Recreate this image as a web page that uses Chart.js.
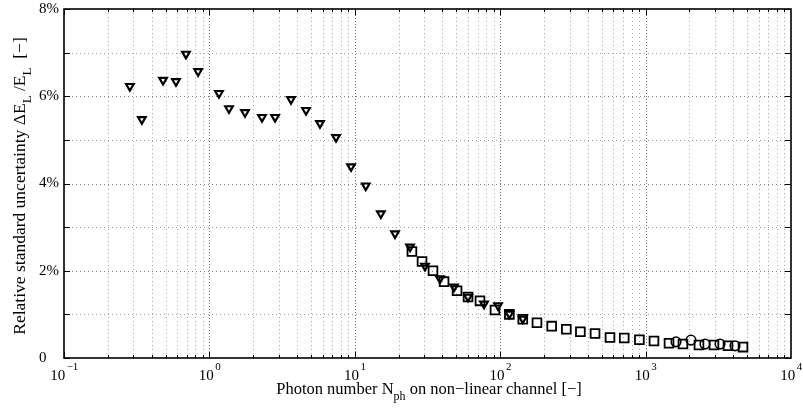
<!DOCTYPE html>
<html>
<head>
<meta charset="utf-8">
<script src="https://cdn.jsdelivr.net/npm/chart.js@4/dist/chart.umd.min.js"></script>
<style>
  html, body { margin: 0; padding: 0; background: #ffffff; }
  #wrap { width: 803px; height: 412px; position: relative; }
</style>
</head>
<body>
<div id="wrap"><canvas id="c" width="803" height="412"></canvas></div>
<script>
// ---- Data ----
// Photon number N_ph (x) and relative standard uncertainty in % (y)
const triangleX = [0.284, 0.343, 0.480, 0.589, 0.690, 0.836, 1.164, 1.364, 1.757, 2.30, 2.83,
                   3.64, 4.62, 5.76, 7.43, 9.42, 11.9, 15.1, 18.9, 24.0, 30.4, 38.5, 48.1,
                   60.1, 77.4, 96.6, 115.6, 143];
const triangleY = [6.23, 5.47, 6.37, 6.34, 6.97, 6.57, 6.07, 5.72, 5.63, 5.52, 5.52,
                   5.93, 5.68, 5.38, 5.06, 4.39, 3.95, 3.31, 2.85, 2.55, 2.11, 1.82, 1.63,
                   1.40, 1.24, 1.20, 1.01, 0.90];

const squareX = [24.7, 29.0, 34.5, 41.1, 50.5, 60.1, 72.6, 92.1, 115.6, 143, 179, 226, 285,
                 356, 449, 569, 713, 906, 1142, 1449, 1807, 2328, 2951, 3687, 4677];
const squareY = [2.44, 2.21, 2.00, 1.75, 1.54, 1.40, 1.31, 1.10, 1.00, 0.89, 0.81, 0.73, 0.66,
                 0.60, 0.56, 0.47, 0.46, 0.42, 0.39, 0.34, 0.32, 0.30, 0.30, 0.28, 0.25];

const circleX = [1618, 2051, 2561, 3249, 4121];
const circleY = [0.37, 0.41, 0.32, 0.32, 0.28];

// Axis tick labels
const xTickExponents = [-1, 0, 1, 2, 3, 4];
const yTickValues = [0, 2, 4, 6, 8];
const yTickLabels = ['0', '2%', '4%', '6%', '8%'];
const yGridValues = [1, 2, 3, 4, 5, 6, 7];

const xTitleParts = [['Photon number N', 0], ['ph', -1], [' on non\u2212linear channel [\u2212]', 0]];
const yTitleParts = [['Relative standard uncertainty \u0394E', 0], ['L', -1], [' /E', 0], ['L', -1], ['  [\u2212]', 0]];

// ---- Build datasets ----
function pts(xs, ys) { return xs.map((x, i) => ({ x: x, y: ys[i] })); }

const FONT = '"Liberation Serif", "Times New Roman", serif';

function drawRich(ctx, parts, x, y, size) {
  // parts: [text, mode]  mode 0 normal, -1 subscript, 1 superscript
  const subSize = Math.round(size * 0.72);
  let total = 0;
  parts.forEach(p => {
    ctx.font = (p[1] === 0 ? size : subSize) + 'px ' + FONT;
    total += ctx.measureText(p[0]).width;
  });
  let cx = x - total / 2;
  ctx.textAlign = 'left';
  ctx.textBaseline = 'alphabetic';
  parts.forEach(p => {
    ctx.font = (p[1] === 0 ? size : subSize) + 'px ' + FONT;
    const dy = p[1] === -1 ? 6 : (p[1] === 1 ? -9 : 0);
    ctx.fillText(p[0], cx, y + dy);
    cx += ctx.measureText(p[0]).width;
  });
}

const axesPlugin = {
  id: 'matlabAxes',
  beforeDatasetsDraw(chart) {
    const ctx = chart.ctx;
    const xs = chart.scales.x, ys = chart.scales.y;
    const a = chart.chartArea;
    ctx.save();
    ctx.lineWidth = 1;
    // vertical grid lines (log decades)
    for (let e = -1; e < 4; e++) {
      for (let m = 1; m <= 9; m++) {
        const v = m * Math.pow(10, e);
        if (m === 1 && e === -1) continue;
        const px = Math.round(xs.getPixelForValue(v)) + 0.5;
        ctx.strokeStyle = m === 1 ? '#707070' : '#a8a8a8';
        ctx.setLineDash(m === 1 ? [1, 2] : [1, 3]);
        ctx.beginPath();
        ctx.moveTo(px, a.top);
        ctx.lineTo(px, a.bottom);
        ctx.stroke();
      }
    }
    // horizontal grid lines
    yGridValues.forEach(v => {
      const py = Math.round(ys.getPixelForValue(v)) + 0.5;
      ctx.strokeStyle = v % 2 === 0 ? '#808080' : '#a0a0a0';
      ctx.setLineDash([1, 3]);
      ctx.beginPath();
      ctx.moveTo(a.left, py);
      ctx.lineTo(a.right, py);
      ctx.stroke();
    });
    ctx.restore();
  },
  afterDatasetsDraw(chart) {
    const ctx = chart.ctx;
    const xs = chart.scales.x, ys = chart.scales.y;
    const a = chart.chartArea;
    ctx.save();
    ctx.setLineDash([]);
    ctx.strokeStyle = '#000';
    // tick marks (inward, bottom and top)
    ctx.lineWidth = 1;
    for (let e = -1; e < 4; e++) {
      for (let m = 1; m <= 9; m++) {
        const v = m * Math.pow(10, e);
        const px = Math.round(xs.getPixelForValue(v)) + 0.5;
        const len = m === 1 ? 6 : 3;
        ctx.beginPath();
        ctx.moveTo(px, a.bottom); ctx.lineTo(px, a.bottom - len);
        ctx.moveTo(px, a.top); ctx.lineTo(px, a.top + len);
        ctx.stroke();
      }
    }
    // y tick marks, left and right
    for (let v = 0; v <= 8; v++) {
      const py = Math.round(ys.getPixelForValue(v)) + 0.5;
      ctx.beginPath();
      ctx.moveTo(a.left, py); ctx.lineTo(a.left + 6, py);
      ctx.moveTo(a.right, py); ctx.lineTo(a.right - 6, py);
      ctx.stroke();
    }
    // frame
    ctx.lineWidth = 1.6;
    ctx.strokeRect(a.left, a.top, a.right - a.left, a.bottom - a.top);

    // labels
    ctx.fillStyle = '#000';
    // y tick labels
    ctx.font = '15px ' + FONT;
    ctx.textAlign = 'left';
    ctx.textBaseline = 'middle';
    yTickValues.forEach((v, i) => {
      ctx.fillText(yTickLabels[i], 39, ys.getPixelForValue(v));
    });
    // x tick labels (10^n)
    xTickExponents.forEach(e => {
      const px = xs.getPixelForValue(Math.pow(10, e));
      const expTxt = e < 0 ? '\u2212' + Math.abs(e) : String(e);
      ctx.font = '15px ' + FONT;
      const w1 = ctx.measureText('10').width;
      ctx.font = '11px ' + FONT;
      const w2 = ctx.measureText(expTxt).width;
      const start = px - (w1 + w2 + 1) / 2;
      ctx.textAlign = 'left';
      ctx.textBaseline = 'alphabetic';
      ctx.font = '15px ' + FONT;
      ctx.fillText('10', start, 380);
      ctx.font = '11px ' + FONT;
      ctx.fillText(expTxt, start + w1 + 1.5, 370);
    });
    // x title
    drawRich(ctx, xTitleParts, 429, 394, 16.5);
    // y title (rotated)
    ctx.save();
    ctx.translate(25, 186);
    ctx.rotate(-Math.PI / 2);
    drawRich(ctx, yTitleParts, 0, 0, 17.5);
    ctx.restore();
    ctx.restore();
  }
};

const chart = new Chart(document.getElementById('c'), {
  type: 'scatter',
  data: {
    datasets: [
      {
        label: 'triangles',
        data: pts(triangleX, triangleY),
        pointStyle: 'triangle',
        rotation: 180,
        radius: 4.4,
        borderWidth: 2.2,
        borderColor: '#000',
        backgroundColor: 'rgba(255,255,255,0)'
      },
      {
        label: 'squares',
        data: pts(squareX, squareY),
        pointStyle: 'rect',
        radius: 6.2,
        borderWidth: 1.8,
        borderColor: '#000',
        backgroundColor: 'rgba(255,255,255,0)'
      },
      {
        label: 'circles',
        data: pts(circleX, circleY),
        pointStyle: 'circle',
        radius: 4.8,
        borderWidth: 1.6,
        borderColor: '#000',
        backgroundColor: 'rgba(255,255,255,0)'
      }
    ]
  },
  options: {
    responsive: false,
    animation: false,
    events: [],
    layout: { padding: { left: 64, right: 12, top: 9, bottom: 54 } },
    plugins: { legend: { display: false }, tooltip: { enabled: false } },
    scales: {
      x: { type: 'logarithmic', min: 0.1, max: 10000, display: false },
      y: { type: 'linear', min: 0, max: 8, display: false }
    }
  },
  plugins: [axesPlugin]
});
</script>
</body>
</html>
